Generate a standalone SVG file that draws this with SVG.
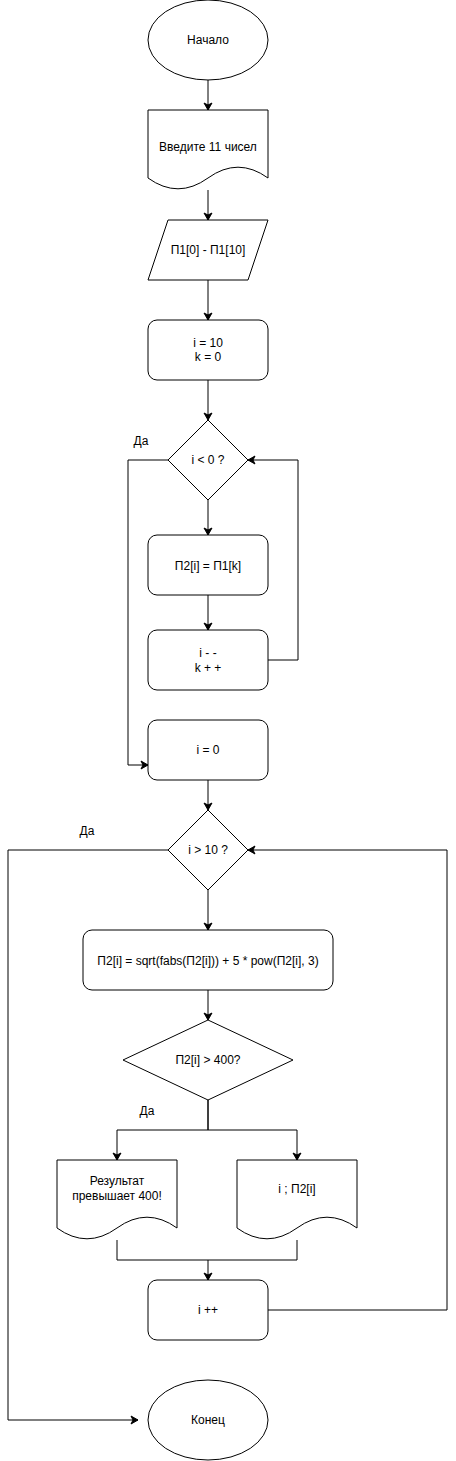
<svg xmlns="http://www.w3.org/2000/svg" width="456" height="1461" viewBox="0 0 456 1461">
<defs>
<marker id="arr" viewBox="-8 -5 10 10" refX="0" refY="0" markerWidth="10" markerHeight="10" markerUnits="userSpaceOnUse" orient="auto">
<path d="M-7,-4 L0,0 L-7,4 L-5,0 Z" fill="#000" stroke="#000" stroke-width="1"/>
</marker>
</defs>
<style>
.s{fill:#fff;stroke:#000;stroke-width:1}
.t{font-family:"Liberation Sans",Arial,sans-serif;font-size:12px;fill:#000;text-anchor:middle;dominant-baseline:central}
.e{fill:none;stroke:#000;stroke-width:1}
.a{marker-end:url(#arr)}
</style>
<rect width="456" height="1461" fill="#fff"/>
<g id="connectors">
<path class="e a" d="M208,80 V110"/>
<path class="e a" d="M208,190 V220"/>
<path class="e a" d="M208,280 V320"/>
<path class="e a" d="M208,380 V420"/>
<path class="e a" d="M208,500 V535"/>
<path class="e a" d="M208,595 V630"/>
<path class="e a" d="M268,660 H298 V460 H248"/>
<path class="e a" d="M168,460 H128 V765 H148"/>
<path class="e a" d="M208,780 V810"/>
<path class="e a" d="M208,890 V930"/>
<path class="e a" d="M208,990 V1020"/>
<path class="e a" d="M208,1100 V1130 H117 V1160"/>
<path class="e a" d="M208,1100 V1130 H297 V1160"/>
<path class="e a" d="M117,1240 V1260 H208 V1280"/>
<path class="e" d="M297,1240 V1260 H208"/>
<path class="e a" d="M268,1310 H447 V850 H248"/>
<path class="e a" d="M168,850 H8 V1420 H138"/>
</g>
<g id="start">
<ellipse class="s" cx="208" cy="40" rx="60" ry="40"/>
<text class="t" x="208" y="40">Начало</text>
</g>
<g id="input-msg">
<path class="s" d="M148,110 H268 V178 Q238,156.4 208,178 Q178,199.6 148,178 Z"/>
<text class="t" x="208" y="147">Введите 11 чисел</text>
</g>
<g id="input-data">
<path class="s" d="M168,220 H268 L248,280 H148 Z"/>
<text class="t" x="208" y="250">П1[0] - П1[10]</text>
</g>
<g id="init">
<rect class="s" x="148" y="320" width="120" height="60" rx="9"/>
<text class="t" x="208" y="343">i = 10</text>
<text class="t" x="208" y="357">k = 0</text>
</g>
<g id="cond1">
<path class="s" d="M208,420 L248,460 L208,500 L168,460 Z"/>
<text class="t" x="208" y="460">i &lt; 0 ?</text>
<text class="t" x="141" y="441">Да</text>
</g>
<g id="copy">
<rect class="s" x="148" y="535" width="120" height="60" rx="9"/>
<text class="t" x="208" y="566">П2[i] = П1[k]</text>
</g>
<g id="step1">
<rect class="s" x="148" y="630" width="120" height="60" rx="9"/>
<text class="t" x="208" y="653">i - -</text>
<text class="t" x="208" y="668">k + +</text>
</g>
<g id="init2">
<rect class="s" x="148" y="720" width="120" height="60" rx="9"/>
<text class="t" x="208" y="750">i = 0</text>
</g>
<g id="cond2">
<path class="s" d="M208,810 L248,850 L208,890 L168,850 Z"/>
<text class="t" x="208" y="850">i &gt; 10 ?</text>
<text class="t" x="87" y="831">Да</text>
</g>
<g id="calc">
<rect class="s" x="83" y="930" width="250" height="60" rx="9"/>
<text class="t" x="208" y="961">П2[i] = sqrt(fabs(П2[i])) + 5 * pow(П2[i], 3)</text>
</g>
<g id="cond3">
<path class="s" d="M208,1020 L293,1060 L208,1100 L123,1060 Z"/>
<text class="t" x="208" y="1060">П2[i] &gt; 400?</text>
<text class="t" x="147" y="1111">Да</text>
</g>
<g id="out-exceed">
<path class="s" d="M57,1160 H177 V1228 Q147,1206.4 117,1228 Q87,1249.6 57,1228 Z"/>
<text class="t" x="117" y="1181">Результат</text>
<text class="t" x="117" y="1196">превышает 400!</text>
</g>
<g id="out-value">
<path class="s" d="M237,1160 H357 V1228 Q327,1206.4 297,1228 Q267,1249.6 237,1228 Z"/>
<text class="t" x="297" y="1189">i ; П2[i]</text>
</g>
<g id="inc">
<rect class="s" x="148" y="1280" width="120" height="60" rx="9"/>
<text class="t" x="208" y="1310">i ++</text>
</g>
<g id="end">
<ellipse class="s" cx="208" cy="1420" rx="60" ry="40"/>
<text class="t" x="208" y="1420">Конец</text>
</g>
</svg>
